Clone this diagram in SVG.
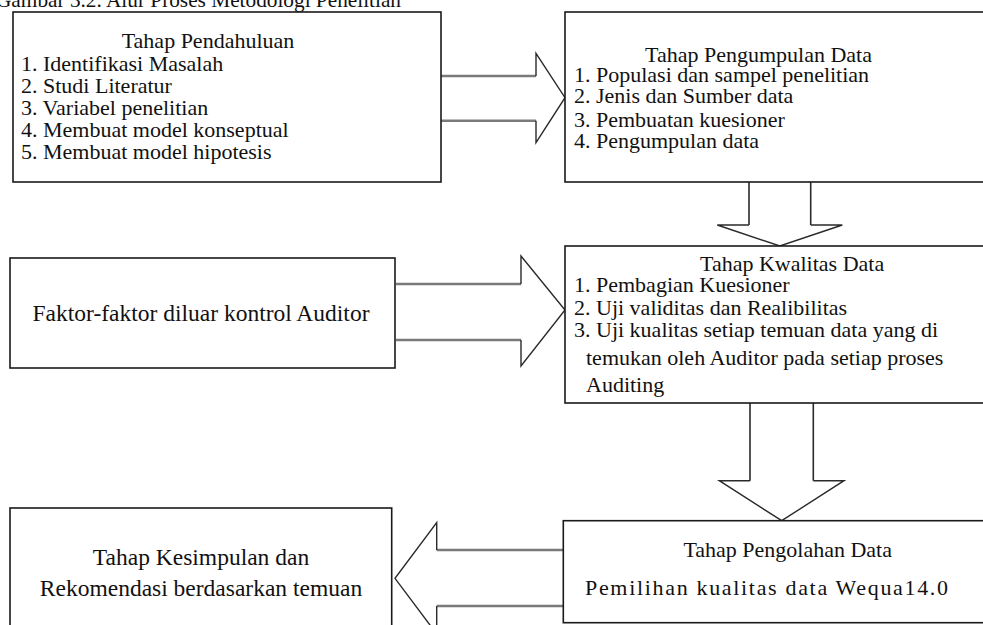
<svg xmlns="http://www.w3.org/2000/svg" width="983" height="625" viewBox="0 0 983 625">
<style>
.box{fill:#fff;stroke:#1a1a1a;stroke-width:1.6}
.t{font-family:"Liberation Serif","Times New Roman",serif;font-size:22px;fill:#111}
.tl{font-family:"Liberation Serif","Times New Roman",serif;font-size:23.5px;fill:#111}
.c{text-anchor:middle}
.head{fill:none;stroke:#2a2a2a;stroke-width:1.4;stroke-linejoin:miter}
.shaft{fill:none;stroke:#7a7a7a;stroke-width:2.4}
.vshaft{fill:none;stroke:#2a2a2a;stroke-width:1.6}
</style>
<rect width="983" height="625" fill="#fff"/>
<text class="t" x="-4" y="6.5" textLength="405" lengthAdjust="spacingAndGlyphs">Gambar 3.2. Alur Proses Metodologi Penelitian</text>

<g id="connectors">
  <!-- Pendahuluan -> Pengumpulan -->
  <line class="shaft" x1="441" y1="76" x2="536" y2="76"/>
  <line class="shaft" x1="441" y1="120.7" x2="536" y2="120.7"/>
  <polyline class="head" points="536,76 536,53.3 565,97.7 536,142.7 536,120.7"/>
  <!-- Faktor -> Kwalitas -->
  <line class="shaft" x1="396" y1="284" x2="521" y2="284"/>
  <line class="shaft" x1="396" y1="340" x2="521" y2="340"/>
  <polyline class="head" points="521,284 521,256 565,310 521,366 521,340"/>
  <!-- Pengumpulan -> Kwalitas -->
  <polyline class="vshaft" points="749,182 749,225"/>
  <polyline class="vshaft" points="810.7,182 810.7,225"/>
  <polyline class="head" points="749,225 717.3,225 779.8,246 842.3,225 810.7,225"/>
  <!-- Kwalitas -> Pengolahan -->
  <polyline class="vshaft" points="750,403 750,480.7"/>
  <polyline class="vshaft" points="813.3,403 813.3,480.7"/>
  <polyline class="head" points="750,480.7 719.3,480.7 781.7,520.7 844,480.7 813.3,480.7"/>
  <!-- Pengolahan -> Kesimpulan -->
  <line class="shaft" x1="563.3" y1="550" x2="436.7" y2="550"/>
  <line class="shaft" x1="563.3" y1="606" x2="436.7" y2="606"/>
  <polyline class="head" points="436.7,550 436.7,522.7 395,578.3 436.7,634 436.7,606"/>
</g>

<g id="pendahuluan">
  <rect class="box" x="13" y="12" width="428" height="170"/>
  <text class="t c" x="208" y="48">Tahap Pendahuluan</text>
  <text class="t" x="21" y="71">1. Identifikasi  Masalah</text>
  <text class="t" x="21" y="93">2. Studi Literatur</text>
  <text class="t" x="21" y="115">3. Variabel  penelitian</text>
  <text class="t" x="21" y="137">4. Membuat  model konseptual</text>
  <text class="t" x="21" y="159">5. Membuat  model hipotesis</text>
</g>

<g id="pengumpulan">
  <rect class="box" x="565" y="12" width="430" height="170"/>
  <text class="t" x="645" y="61.7">Tahap Pengumpulan Data</text>
  <text class="t" x="574" y="81.7">1. Populasi dan sampel penelitian</text>
  <text class="t" x="574" y="103">2. Jenis dan Sumber data</text>
  <text class="t" x="574" y="126.7">3. Pembuatan kuesioner</text>
  <text class="t" x="574" y="147.7">4. Pengumpulan data</text>
</g>

<g id="faktor">
  <rect class="box" x="10" y="258" width="385" height="110"/>
  <text class="tl c" x="201" y="321">Faktor-faktor diluar kontrol Auditor</text>
</g>

<g id="kwalitas">
  <rect class="box" x="565" y="246" width="430" height="157"/>
  <text class="t" x="700" y="270.7">Tahap Kwalitas Data</text>
  <text class="t" x="574" y="291.7">1. Pembagian Kuesioner</text>
  <text class="t" x="574" y="315">2. Uji validitas dan Realibilitas</text>
  <text class="t" x="574" y="336.7">3. Uji kualitas setiap temuan data yang di</text>
  <text class="t" x="586" y="365">temukan oleh Auditor pada setiap proses</text>
  <text class="t" x="586" y="391.7">Auditing</text>
</g>

<g id="pengolahan">
  <rect class="box" x="563.3" y="520.7" width="432" height="102"/>
  <text class="t c" x="787.7" y="556.7">Tahap Pengolahan Data</text>
  <text class="t" x="585" y="595" textLength="363" lengthAdjust="spacing">Pemilihan kualitas data Wequa14.0</text>
</g>

<g id="kesimpulan">
  <rect class="box" x="10" y="508" width="381.7" height="140"/>
  <text class="tl c" x="201" y="565">Tahap Kesimpulan dan</text>
  <text class="tl c" x="201" y="596">Rekomendasi berdasarkan temuan</text>
</g>
</svg>
